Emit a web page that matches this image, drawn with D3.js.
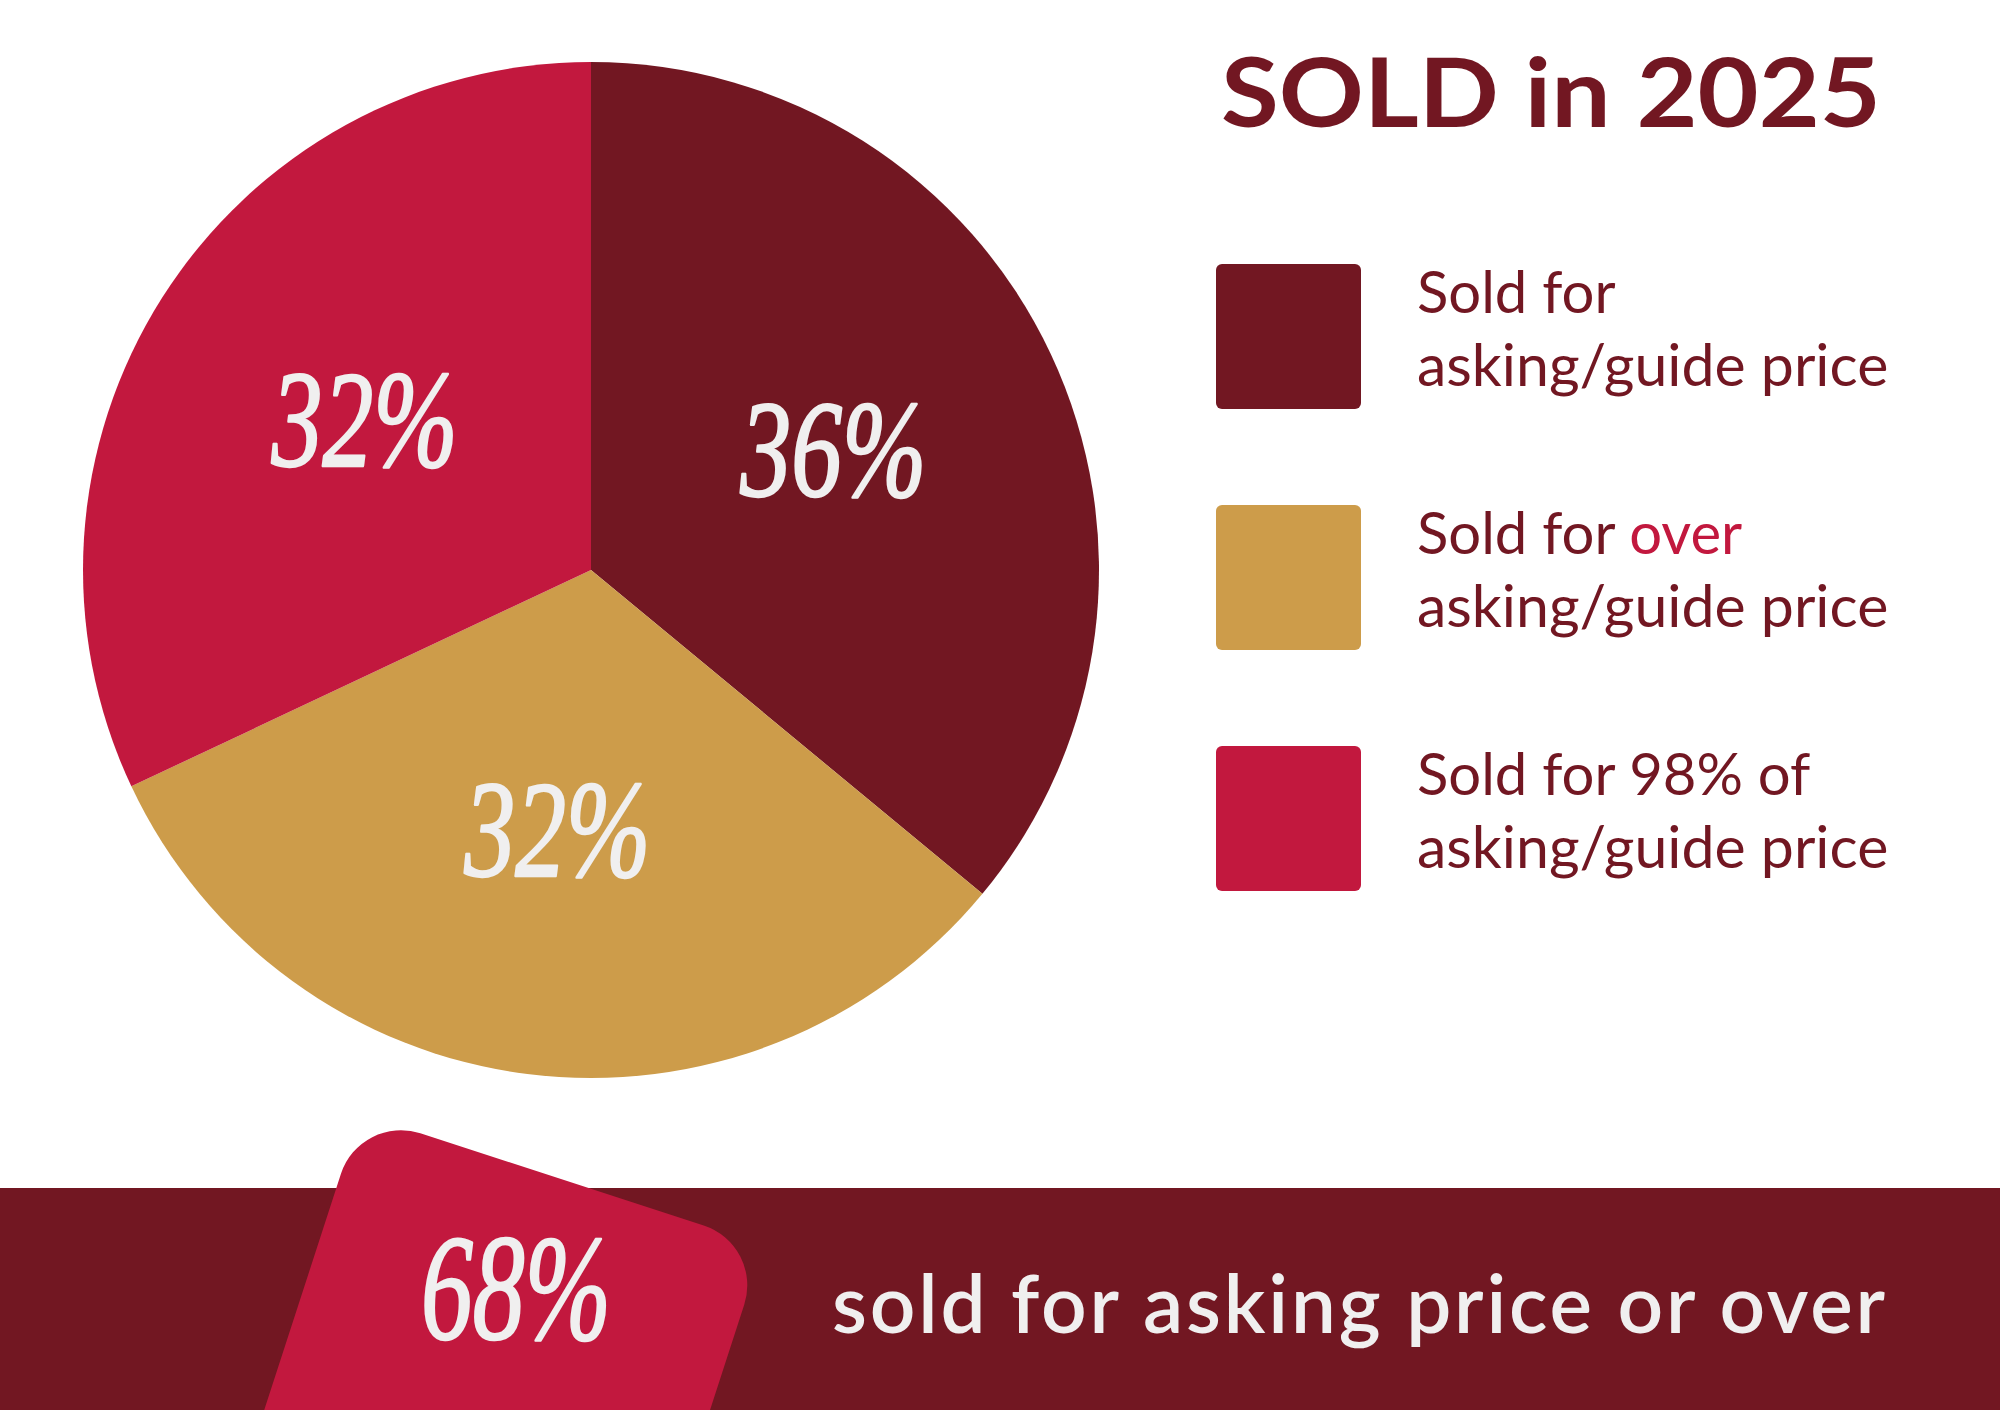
<!DOCTYPE html>
<html>
<head>
<meta charset="utf-8">
<script src="https://cdn.jsdelivr.net/npm/d3@7"></script>
<style>
  html, body { margin: 0; padding: 0; background: #ffffff; }
  svg { display: block; }
</style>
</head>
<body>
<svg id="chart" width="2000" height="1410"></svg>
<script>
// ---- data ----
const categories = ["Sold for asking/guide price", "Sold for over asking/guide price", "Sold for 98% of asking/guide price"];
const values = [36, 32, 32];
const colors = ["#721722", "#CD9C4A", "#C2183E"];
const legendLine1 = ["Sold for", "Sold for ", "Sold for 98% of"];
const legendHighlight = ["", "over", ""];
const legendLine2 = ["asking/guide price", "asking/guide price", "asking/guide price"];
const titleText = "SOLD in 2025";
const summaryValue = 68;
const summaryText = "sold for asking price or over";

// ---- layout ----
const W = 2000, H = 1410;
const svg = d3.select("#chart");
const maroon = "#721722", crimson = "#C2183E", light = "#F0EFEF";
const scriptFont = "'Liberation Serif', 'DejaVu Serif', serif";
const sansFont = "Lato, 'Open Sans', sans-serif";

svg.append("rect").attr("width", W).attr("height", H).attr("fill", "#fff");

// Pie
const cx = 591, cy = 570, R = 508;
const pie = d3.pie().sort(null).value(d => d)(values);
const arc = d3.arc().innerRadius(0).outerRadius(R);
const labelR = 268;
const labelArc = d3.arc().innerRadius(2 * labelR - R).outerRadius(R);
const colorScale = d3.scaleOrdinal().domain(d3.range(values.length)).range(colors);

const gPie = svg.append("g").attr("transform", `translate(${cx},${cy})`);
gPie.selectAll("path.slice").data(pie).join("path")
  .attr("class", "slice")
  .attr("d", arc)
  .attr("fill", (d, i) => colorScale(i));

gPie.selectAll("text.pct").data(pie).join("text")
  .attr("class", "pct")
  .attr("x", d => labelArc.centroid(d)[0])
  .attr("y", d => labelArc.centroid(d)[1] + 40)
  .attr("text-anchor", "middle")
  .attr("font-family", scriptFont)
  .attr("font-style", "italic")
  .attr("font-size", 138)
  .attr("textLength", 186)
  .attr("lengthAdjust", "spacingAndGlyphs")
  .attr("fill", light)
  .attr("stroke", light)
  .attr("stroke-width", 2.5)
  .attr("stroke-linejoin", "round")
  .text(d => d.value + "%");

// Title
svg.append("text")
  .attr("x", 1221).attr("y", 127)
  .attr("font-family", sansFont)
  .attr("font-weight", 700)
  .attr("font-size", 95)
  .attr("textLength", 660)
  .attr("lengthAdjust", "spacingAndGlyphs")
  .attr("fill", maroon)
  .text(titleText);

// Legend
const legendY = d3.scaleLinear().domain([0, 1]).range([264, 505]);
const gLeg = svg.append("g");
const items = gLeg.selectAll("g.item").data(categories).join("g")
  .attr("class", "item")
  .attr("transform", (d, i) => `translate(1216,${legendY(i)})`);
items.append("rect")
  .attr("width", 145).attr("height", 145)
  .attr("rx", 6).attr("ry", 6)
  .attr("fill", (d, i) => colorScale(i));
const t1 = items.append("text")
  .attr("x", 201).attr("y", 49)
  .attr("font-family", sansFont)
  .attr("font-size", 58)
  .attr("fill", maroon);
t1.append("tspan").text((d, i) => legendLine1[i]);
t1.append("tspan").attr("fill", crimson).text((d, i) => legendHighlight[i]);
items.append("text")
  .attr("x", 201).attr("y", 122)
  .attr("font-family", sansFont)
  .attr("font-size", 59)
  .attr("fill", maroon)
  .text((d, i) => legendLine2[i]);

// Bottom band
svg.append("rect")
  .attr("x", 0).attr("y", 1188)
  .attr("width", W).attr("height", H - 1188)
  .attr("fill", maroon);

// Rotated rounded badge
svg.append("g").attr("transform", "rotate(18)")
  .append("rect")
  .attr("x", 687).attr("y", 948)
  .attr("width", 424).attr("height", 700)
  .attr("rx", 63).attr("ry", 63)
  .attr("fill", crimson);

svg.append("text")
  .attr("x", 516).attr("y", 1291 + 48)
  .attr("text-anchor", "middle")
  .attr("font-family", scriptFont)
  .attr("font-style", "italic")
  .attr("font-size", 150)
  .attr("textLength", 190)
  .attr("lengthAdjust", "spacingAndGlyphs")
  .attr("fill", light)
  .attr("stroke", light)
  .attr("stroke-width", 2.5)
  .attr("stroke-linejoin", "round")
  .text(summaryValue + "%");

svg.append("text")
  .attr("x", 832).attr("y", 1333)
  .attr("font-family", sansFont)
  .attr("font-weight", 600)
  .attr("font-size", 80)
  .attr("textLength", 1053)
  .attr("lengthAdjust", "spacing")
  .attr("fill", light)
  .text(summaryText);
</script>
</body>
</html>
